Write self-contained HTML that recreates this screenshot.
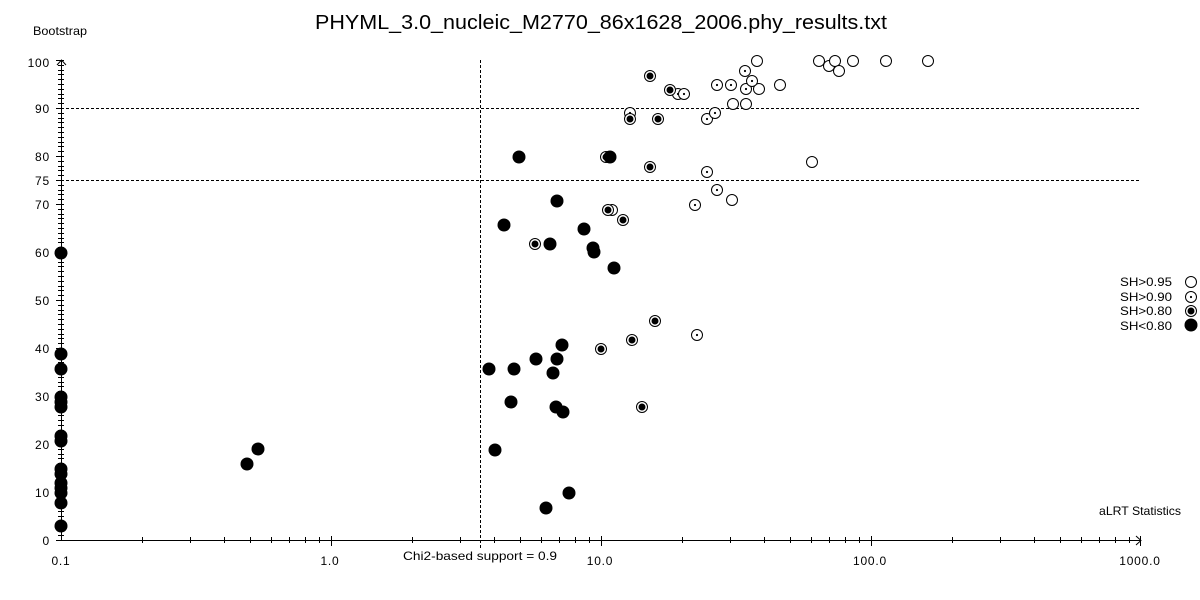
<!DOCTYPE html>
<html><head><meta charset="utf-8"><style>
html,body{margin:0;padding:0;background:#fff;}
svg{display:block;}
text{font-family:"Liberation Sans",sans-serif;fill:#000;}
</style></head><body>
<svg width="1200" height="600" viewBox="0 0 1200 600" xmlns="http://www.w3.org/2000/svg">
<rect width="1200" height="600" fill="#fff"/>
<text x="315" y="29" font-size="20" textLength="572" lengthAdjust="spacingAndGlyphs">PHYML_3.0_nucleic_M2770_86x1628_2006.phy_results.txt</text>
<text x="33" y="35" font-size="12" textLength="54" lengthAdjust="spacingAndGlyphs">Bootstrap</text>
<text x="1099" y="515" font-size="12" textLength="82" lengthAdjust="spacingAndGlyphs">aLRT Statistics</text>
<text x="403" y="560" font-size="12" textLength="154" lengthAdjust="spacingAndGlyphs">Chi2-based support = 0.9</text>

<!-- dashed guide lines -->
<g stroke="#000" stroke-width="1" stroke-dasharray="3,2" fill="none">
<line x1="61" y1="108.5" x2="1141" y2="108.5"/>
<line x1="61" y1="180.5" x2="1141" y2="180.5"/>
<line x1="480.5" y1="60" x2="480.5" y2="550"/>
</g>

<!-- axes -->
<g stroke="#000" stroke-width="1" fill="none" shape-rendering="crispEdges">
<line x1="61.5" y1="60" x2="61.5" y2="541"/>
<line x1="61" y1="540.5" x2="1141" y2="540.5"/>
</g>
<g stroke="#000" stroke-width="1" fill="none">
<polyline points="57,65 61.5,60 66,65"/>
<polyline points="1136,536 1141,540.5 1136,545"/>
</g>

<g id="yt" stroke="#000" stroke-width="1" shape-rendering="crispEdges"></g>
<g id="xt" stroke="#000" stroke-width="1" shape-rendering="crispEdges"></g>

<g font-size="12" text-anchor="end" letter-spacing="0.8">
<text x="50" y="67">100</text>
<text x="50" y="113">90</text>
<text x="50" y="161">80</text>
<text x="50" y="185">75</text>
<text x="50" y="209">70</text>
<text x="50" y="257">60</text>
<text x="50" y="305">50</text>
<text x="50" y="353">40</text>
<text x="50" y="401">30</text>
<text x="50" y="449">20</text>
<text x="50" y="497">10</text>
<text x="50" y="545">0</text>
</g>
<g font-size="12" text-anchor="middle" letter-spacing="0.8">
<text x="61" y="565">0.1</text>
<text x="330" y="565">1.0</text>
<text x="600" y="565">10.0</text>
<text x="870" y="565">100.0</text>
<text x="1140" y="565">1000.0</text>
</g>

<!-- legend -->
<g font-size="12">
<text x="1120" y="286" textLength="52" lengthAdjust="spacingAndGlyphs">SH&gt;0.95</text>
<text x="1120" y="301" textLength="52" lengthAdjust="spacingAndGlyphs">SH&gt;0.90</text>
<text x="1120" y="315" textLength="52" lengthAdjust="spacingAndGlyphs">SH&gt;0.80</text>
<text x="1120" y="330" textLength="52" lengthAdjust="spacingAndGlyphs">SH&lt;0.80</text>
</g>
<g id="pts"></g>

<script>
(function(){
var NS="http://www.w3.org/2000/svg";
function el(p,n,a){var e=document.createElementNS(NS,n);for(var k in a)e.setAttribute(k,a[k]);p.appendChild(e);return e;}
var yt=document.getElementById('yt');
for(var v=0;v<=100;v++){var y=Math.round(540-4.8*v)+0.5;var maj=(v%10==0||v==75);
 el(yt,'line',{x1:maj?56:58,y1:y,x2:64,y2:y});}
var xt=document.getElementById('xt');
for(var d=0;d<4;d++){for(var m=1;m<=9;m++){var x=Math.round(61+270*(d+Math.log10(m)))+0.5;
 if(m==1){ if(d>0) el(xt,'line',{x1:x,y1:536,x2:x,y2:546}); }
 else el(xt,'line',{x1:x,y1:537,x2:x,y2:543});}}
el(xt,'line',{x1:1140.5,y1:536,x2:1140.5,y2:546});
var g=document.getElementById('pts');
function O(x,y){el(g,'circle',{cx:x,cy:y,r:5.5,fill:'#fff',stroke:'#000','stroke-width':1});}
function D(x,y){O(x,y);el(g,'circle',{cx:x,cy:y,r:1.1,fill:'#000'});}
function R(x,y){O(x,y);el(g,'circle',{cx:x,cy:y,r:3.5,fill:'#000'});}
function F(x,y){el(g,'circle',{cx:x,cy:y,r:6.5,fill:'#000'});}
var Fs=[[61,253],[61,354],[61,369],[61,397],[61,402],[61,407],[61,436],[61,441],[61,469],[61,474],[61,483],[61,488],[61,493],[61,503],[61,526],
[247,464],[258,449],[489,369],[495,450],[504,225],[511,402],[514,369],[519,157],[536,359],[546,508],[550,244],[553,373],[556,407],[557,201],[557,359],[562,345],[563,412],[569,493],[584,229],[593,248],[594,252],[614,268]];
var Rs=[[535,244],[601,349],[606,157],[623,220],[632,340],[642,407],[650,76],[650,167],[655,321],[658,119],[670,90]];
var Ds=[[612,210],[630,113],[678,94],[684,94],[695,205],[697,335],[707,119],[707,172],[715,113],[717,85],[717,190],[731,85],[745,71],[746,89],[752,81]];
var Os=[[733,104],[746,104],[757,61],[759,89],[780,85],[732,200],[812,162],[819,61],[829,66],[835,61],[839,71],[853,61],[886,61],[928,61]];
Os.forEach(function(p){O(p[0],p[1]);});
Ds.forEach(function(p){D(p[0],p[1]);});
Rs.forEach(function(p){R(p[0],p[1]);});
R(608,210);R(630,119);
Fs.forEach(function(p){F(p[0],p[1]);});
F(610,157);
O(1191,282);D(1191,297);R(1191,311);F(1191,325);
})();
</script>
</svg>
</body></html>
